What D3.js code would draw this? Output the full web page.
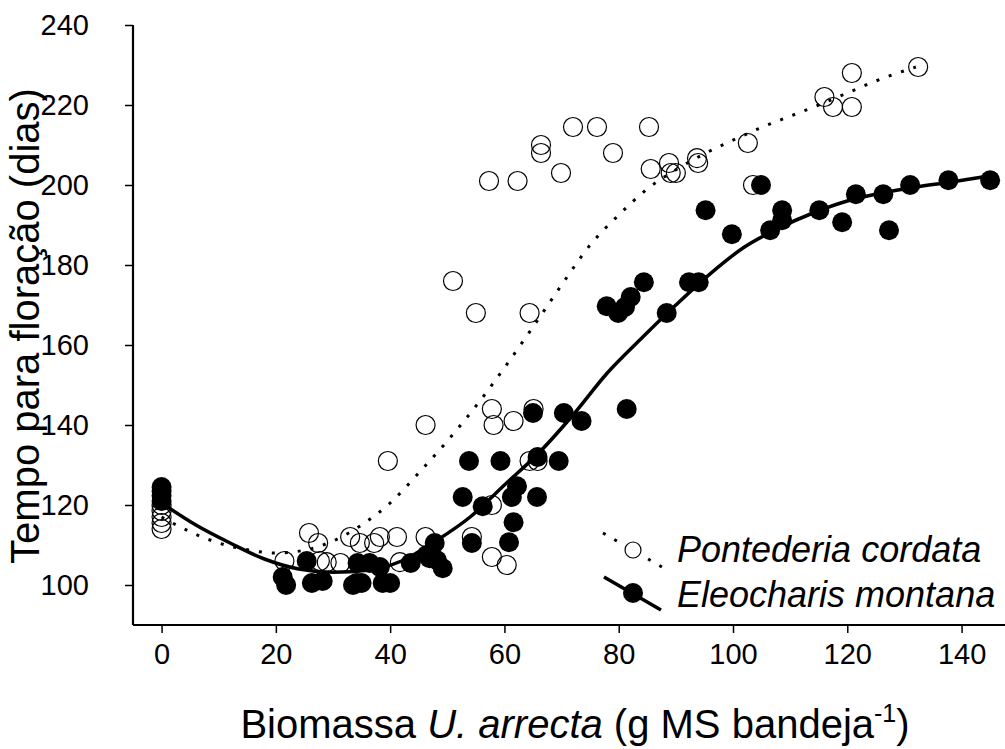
<!DOCTYPE html>
<html>
<head>
<meta charset="utf-8">
<script src="https://cdn.jsdelivr.net/npm/d3@7"></script>
<style>
  body { margin: 0; background: #fff; }
  svg { display: block; font-family: "Liberation Sans", Arial, sans-serif; }
</style>
</head>
<body>
<svg id="chart" width="1005" height="749"></svg>
<script>
// Pontederia cordata (open circles) - [biomassa, dias]
const pontederia = [
  [0,114],[0,115.5],[0,117],[0,118.5],[0,120],
  [21.5,106],[25.8,113],[27.4,110.5],[27.7,106],[28.9,105.7],[31.3,105.5],[33,112],[34.7,110.5],
  [37.2,110.5],[38.2,112],[41.2,112],[41.7,105.7],[46.2,112],[39.6,131],[46.2,140],
  [54.3,112],[57.8,107],[60.4,105],[57.8,120],[64.4,131],[65.8,131],[57.8,144],[58.1,140],
  [61.6,141],[65.1,144],[55,168],[64.4,168],[51,176],[57.3,201],[62.3,201],[66.4,210],
  [66.4,208],[69.9,203],[72,214.5],[76.2,214.5],[79,208],[85.3,214.5],[85.6,204],[88.8,205.5],
  [89.1,203],[90,203],[93.7,206.7],[93.9,205.5],[102.6,210.5],[103.5,200],[116,222],
  [117.5,219.5],[120.8,219.5],[120.8,228],[132.4,229.5]
];

// Eleocharis montana (filled circles)
const eleocharis = [
  [0,121],[0,122.3],[0,123.5],[0,124.5],
  [21.2,102],[21.8,100],[25.4,106],[26.3,100.5],[28.2,101],[33.5,100],[34.1,100.5],[35,100.5],
  [34.3,105.5],[36.4,105.5],[38.2,104.5],[38.7,100.5],[40,100.5],[43.6,105.5],[46.4,107.5],
  [46.9,106.7],[47.8,110.5],[48.2,106.2],[49.2,104.2],[54.3,110.5],[52.7,122],[53.8,131],
  [56.2,119.7],[59.3,131],[60.8,110.7],[61.6,115.7],[61.3,122],[62.2,124.7],[65.7,122],
  [65.8,132],[69.5,131],[65,143],[70.4,143],[73.5,141],[81.4,144],[77.9,169.7],[79.9,168],
  [81.1,169.5],[82.1,172],[84.4,175.7],[88.4,168],[92.3,175.7],[94,175.7],[95.2,193.7],
  [99.8,187.7],[104.9,200],[106.5,188.7],[108.6,193.7],[108.6,191.2],[115.1,193.7],
  [119.1,190.7],[121.5,197.7],[126.3,197.7],[127.3,188.7],[131,200],[137.7,201.2],[145,201.2]
];

// fitted curves
const fitPontederia = [
  [0,117],[5,113.3],[10,110.5],[15,108.8],[20,108],[25,108.7],[30,111],[35,115],[40,120.5],
  [45,128],[50,136],[55,144.7],[60,154.3],[65,164.5],[70,175],[75,185],[80,192.5],[85,199],
  [90,203.8],[95,207.8],[100,211.2],[105,214.4],[110,217.2],[115,220],[120,223],[125,226],[132,229.5]
];
const fitEleocharis = [
  [0,120.5],[6,115],[12,110.5],[18,106.5],[24,104],[30,103.2],[36,103.7],[42,106],[48,111],
  [54,117],[60,125],[66,133],[72,142.5],[78,153],[84,161.7],[90,170],[96,177.8],[102,184.5],
  [108,189.2],[114,193],[120,196],[126,198],[132,199.5],[138,200.7],[145,202.3]
];

const xTicks = [0, 20, 40, 60, 80, 100, 120, 140];
const yTicks = [100, 120, 140, 160, 180, 200, 220, 240];
const seriesNames = ["Pontederia cordata", "Eleocharis montana"];

const svg = d3.select("#chart");
const plotLeft = 133, plotRight = 1005, plotTop = 25, plotBottom = 625;

const x = d3.scaleLinear().domain([-5, 147.6]).range([plotLeft, plotRight]);
const y = d3.scaleLinear().domain([90, 240]).range([plotBottom, plotTop]);

// axes
const xAxis = svg.append("g")
  .attr("transform", `translate(0,${plotBottom})`)
  .call(d3.axisBottom(x).tickValues(xTicks).tickSize(8).tickPadding(10).tickSizeOuter(0));
const yAxis = svg.append("g")
  .attr("transform", `translate(${plotLeft},0)`)
  .call(d3.axisLeft(y).tickValues(yTicks).tickSize(8).tickPadding(36).tickSizeOuter(0));

[xAxis, yAxis].forEach(g => {
  g.select(".domain").attr("stroke", "#000").attr("stroke-width", 2.2);
  g.selectAll(".tick line").attr("stroke", "#000").attr("stroke-width", 1.5);
  g.selectAll(".tick text").attr("fill", "#000")
    .style("font-size", "29px").style("font-family", "'Liberation Sans', Arial, sans-serif");
});
yAxis.select(".domain").attr("d", `M0,${plotTop}V${plotBottom}`);
xAxis.select(".domain").attr("d", `M${plotLeft},0H${plotRight}`);

// axis titles
svg.append("text")
  .attr("transform", `translate(39,${(plotTop + plotBottom) / 2 + 1}) rotate(-90)`)
  .attr("text-anchor", "middle")
  .style("font-size", "40px")
  .text("Tempo para floração (dias)");

const xt = svg.append("text")
  .attr("x", 575).attr("y", 738)
  .attr("text-anchor", "middle")
  .style("font-size", "40px");
xt.append("tspan").text("Biomassa ");
xt.append("tspan").style("font-style", "italic").text("U. arrecta");
xt.append("tspan").text(" (g MS bandeja");
xt.append("tspan").attr("dy", -16).style("font-size", "25px").text("-1");
xt.append("tspan").attr("dy", 16).text(")");

const line = d3.line().x(d => x(d[0])).y(d => y(d[1])).curve(d3.curveMonotoneX);

// open circles
svg.append("g").selectAll("circle")
  .data(pontederia).join("circle")
  .attr("cx", d => x(d[0])).attr("cy", d => y(d[1])).attr("r", 9.5)
  .attr("fill", "none").attr("stroke", "#000").attr("stroke-width", 1.2);

svg.append("path").datum(fitPontederia)
  .attr("d", line).attr("fill", "none").attr("stroke", "#000")
  .attr("stroke-width", 3).attr("stroke-dasharray", "3,10");

// filled circles
svg.append("g").selectAll("circle")
  .data(eleocharis).join("circle")
  .attr("cx", d => x(d[0])).attr("cy", d => y(d[1])).attr("r", 10)
  .attr("fill", "#000");

svg.append("path").datum(fitEleocharis)
  .attr("d", line).attr("fill", "none").attr("stroke", "#000")
  .attr("stroke-width", 3.5);

// legend
const lg = svg.append("g");
lg.append("line").attr("x1", 603).attr("y1", 533).attr("x2", 662).attr("y2", 567)
  .attr("stroke", "#000").attr("stroke-width", 3).attr("stroke-dasharray", "3,10");
lg.append("circle").attr("cx", 633).attr("cy", 550).attr("r", 8)
  .attr("fill", "#fff").attr("stroke", "#000").attr("stroke-width", 1.2);
lg.append("line").attr("x1", 604).attr("y1", 577).attr("x2", 661).attr("y2", 610)
  .attr("stroke", "#000").attr("stroke-width", 3.5);
lg.append("circle").attr("cx", 633).attr("cy", 593).attr("r", 10).attr("fill", "#000");
lg.selectAll("text").data(seriesNames).join("text")
  .attr("x", 677).attr("y", (d, i) => 562 + i * 45)
  .style("font-size", "36px").style("font-style", "italic")
  .text(d => d);
</script>
</body>
</html>
